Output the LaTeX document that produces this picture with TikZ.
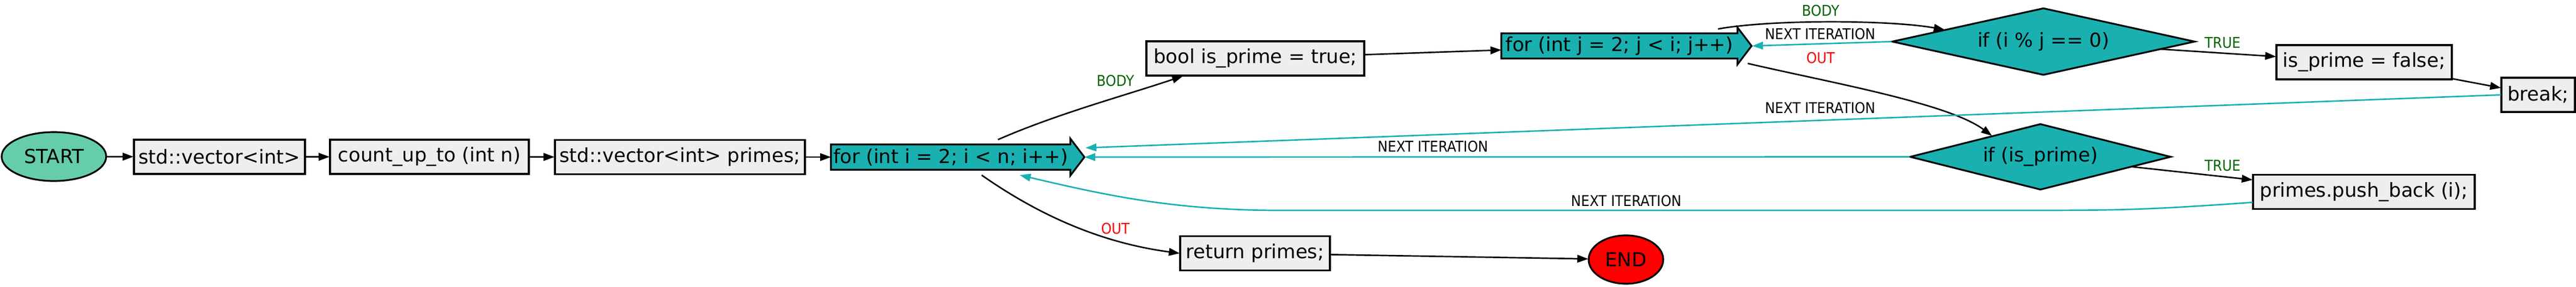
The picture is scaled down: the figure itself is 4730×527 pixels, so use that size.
\documentclass[tikz,border=0pt]{standalone}
\usepackage{fontspec}
\setmainfont{DejaVu Sans}
\newfontfamily\lblfont[FakeStretch=0.9]{DejaVu Sans}
\usetikzlibrary{shapes.geometric,arrows.meta,calc,backgrounds}

\definecolor{loopteal}{RGB}{26,176,176}
\definecolor{boxgray}{RGB}{238,238,238}
\definecolor{startgreen}{RGB}{102,205,170}
\definecolor{bodygreen}{RGB}{0,100,0}

\newcommand{\picscale}{0.5}
\newcommand{\loopshape}[1]{%
  \begin{scope}[on background layer]
    \filldraw[loopbody] (#1.north west) -- (#1.north east) -- ++(0,-11)
      -- ($(#1.east)+(26,0)$) -- ($(#1.south east)+(0,11)$)
      -- (#1.south east) -- (#1.south west) -- cycle;
  \end{scope}}

\begin{document}
\begin{tikzpicture}[x=1pt, y=-1pt, scale=\picscale, every node/.style={scale=\picscale},
    font=\fontsize{35.5}{42}\selectfont,
    box/.style={rectangle, draw, fill=boxgray, line width=1.6pt, minimum height=63pt, inner sep=0pt},
    term/.style={ellipse, draw, line width=1.6pt, inner sep=0pt},
    cond/.style={diamond, draw, fill=loopteal, line width=1.6pt, inner sep=0pt, shape aspect=4.5},
    loop/.style={rectangle, minimum height=46pt, inner sep=0pt},
    loopbody/.style={draw, fill=loopteal, line width=1.6pt},
    lbl/.style={font=\lblfont\fontsize{27.4}{30}\selectfont, inner sep=0pt},
    flow/.style={draw, line width=1.35pt, -{Triangle[length=10pt,width=7pt]}},
    loopback/.style={flow, draw=loopteal}]
    \useasboundingbox (0,0) rectangle (4730,527);

    % Main line.
    \node[term, fill=startgreen, minimum width=192pt, minimum height=90pt] (start) at (99,288) {START};
    \node[box, minimum width=314pt] (vec)    at (403,288.5)    {std::vector<int>};
    \node[box, minimum width=365pt] (count)  at (788.5,288.5)  {count\_up\_to (int n)};
    \node[box, minimum width=459pt] (primes) at (1248.5,289)   {std::vector<int> primes;};
    \node[loop, minimum width=439pt] (fori)  at (1745.5,289)   {for (int i = 2; i < n; i++)\hspace{-25pt}};
    \node[box, minimum width=275pt] (ret)    at (2304.5,466)   {return primes;};
    \node[term, fill=red, minimum width=137pt, minimum height=89pt] (end) at (2985.5,477.5) {END};

    % Outer loop body.
    \node[box, minimum width=400pt] (bool)   at (2305,107.5)   {bool is\_prime = true;};
    \node[loop, minimum width=433pt] (forj)  at (2973.5,84.5)  {for (int j = 2; j < i; j++)\hspace{-25pt}};
    \node[cond, minimum width=556pt, minimum height=123pt] (modj) at (3752,76.5) {if (i \% j == 0)};
    \node[box, minimum width=322pt] (setfalse) at (4341,114.5) {is\_prime = false;};
    \node[box, minimum width=135pt] (brk)    at (4660.5,174.5) {break;};
    \node[cond, minimum width=479pt, minimum height=121pt] (isprime) at (3746.5,288.5) {if (is\_prime)};
    \node[box, minimum width=407pt] (push)   at (4340.5,353)   {primes.push\_back (i);};

    % Loop heads.
    \loopshape{fori}
    \loopshape{forj}
    \coordinate (foritip) at ($(fori.east)+(26,0)$);
    \coordinate (forjtip) at ($(forj.east)+(27,0)$);

    % Edge labels.
    \node[lbl, text=bodygreen] (lbody1) at (2048,149)  {BODY};
    \node[lbl, text=red]       (lout1)  at (2048,421)  {OUT};
    \node[lbl, text=bodygreen] (lbody2) at (3343,20)   {BODY};
    \node[lbl]                 (lnext1) at (3342,63)   {NEXT ITERATION};
    \node[lbl, text=red]       (lout2)  at (3343,107)  {OUT};
    \node[lbl]                 (lnext2) at (3342,199)  {NEXT ITERATION};
    \node[lbl]                 (lnext3) at (2631,270)  {NEXT ITERATION};
    \node[lbl]                 (lnext4) at (2986,370)  {NEXT ITERATION};
    \node[lbl, text=bodygreen] (ltrue1) at (4081,79)   {TRUE};
    \node[lbl, text=bodygreen] (ltrue2) at (4081,305)  {TRUE};

    % Straight flow.
    \draw[flow] (start) -- (vec);
    \draw[flow] (vec) -- (count);
    \draw[flow] (count) -- (primes);
    \draw[flow] (primes) -- (fori);
    \draw[flow] (ret) -- (end);
    \draw[flow] (bool) -- (forj);
    \draw[flow] (modj) -- (setfalse);
    \draw[flow] (setfalse) -- (brk);
    \draw[flow] (isprime) -- (push);

    % Loop edges.
    \draw[flow] ($(fori.north)+(87,-9)$) .. controls +(110,-48) and +(-110,37) .. ($(bool.south west)+(68,0)$);
    \draw[flow] ($(fori.south)+(57,10)$) .. controls +(100,70) and +(-150,-20) .. (ret.west);
    \draw[flow] ($(forj.north)+(181,-8)$) .. controls +(100,-18) and +(-100,-18) .. ($(modj.west)!0.35!(modj.north)$);
    \draw[flow] ($(forj.south east)+(19,9)$) .. controls +(150,35) and +(-80,-60) .. ($(isprime.west)!0.63!(isprime.north)$);

    % Back edges.
    \draw[loopback] (modj.west) -- (forjtip);
    \draw[loopback] (brk.west) -- ($(foritip)+(2,-17)$);
    \draw[loopback] (isprime.west) -- (foritip);
    \draw[loopback] ($(push.south west)+(0,-13)$) .. controls +(-200,14) and +(200,0) .. (3700,387)
        -- (2350,387) .. controls +(-200,0) and +(150,35) .. ($(fori.south)+(127,10)$);
\end{tikzpicture}
\end{document}
